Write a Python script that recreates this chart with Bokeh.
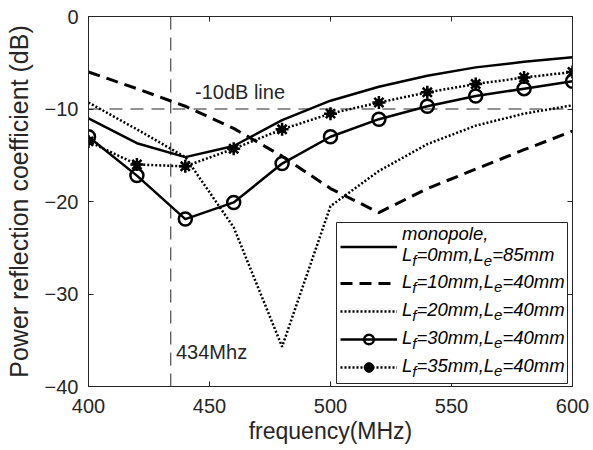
from bokeh.plotting import figure
from bokeh.models import (Range1d, Legend, LegendItem, BoxAnnotation, Label, Span,
                          LinearAxis, SingleIntervalTicker, CustomLabelingPolicy)
from bokeh.embed import file_html
from bokeh.resources import INLINE

# ---------------- data ----------------
freq = [400, 420, 440, 460, 480, 500, 520, 540, 560, 580, 600]
s_monopole = [-11.0, -13.7, -15.2, -14.0, -11.2, -9.1, -7.6, -6.4, -5.5, -4.9, -4.4]
s_lf10 = [-6.0, -7.8, -9.7, -12.1, -15.1, -18.6, -21.2, -18.6, -16.5, -14.4, -12.4]
s_lf20 = [-9.3, -12.2, -15.2, -22.8, -35.7, -20.5, -16.7, -13.8, -11.8, -10.5, -9.6]
s_lf30 = [-13.0, -17.2, -21.9, -20.1, -15.9, -13.0, -11.1, -9.7, -8.6, -7.8, -7.0]
s_lf35 = [-13.5, -16.0, -16.2, -14.3, -12.2, -10.5, -9.3, -8.2, -7.3, -6.6, -6.0]

lf_labels = ["0mm", "10mm", "20mm", "30mm", "35mm"]
le_labels = ["85mm", "40mm", "40mm", "40mm", "40mm"]

MARK_FREQ = 434
THRESH_DB = -10
x_label = "frequency(MHz)"
y_label = "Power reflection coefficient (dB)"

# ---------------- layout constants ----------------
FONT = "Liberation Sans"
INK = "#262626"
FRAME_W, FRAME_H = 484, 370
X_START, X_END = 400, 600
Y_START, Y_END = -40, 0
TEXT_LIFT = 6.5   # px, compensates label baseline placement


def fx(px):
    return X_START + px * (X_END - X_START) / FRAME_W


def fy(py):
    return Y_END - (py - TEXT_LIFT) * (Y_END - Y_START) / FRAME_H


def fy_box(py):
    return Y_END - py * (Y_END - Y_START) / FRAME_H


p = figure(frame_width=FRAME_W, frame_height=FRAME_H,
           x_range=Range1d(X_START, X_END), y_range=Range1d(Y_START, Y_END),
           output_backend="svg", toolbar_location=None,
           min_border_left=88, min_border_right=21, min_border_top=16, min_border_bottom=62,
           background_fill_color="white", border_fill_color="white")
p.grid.visible = False
p.outline_line_color = INK

p.xaxis.ticker = SingleIntervalTicker(interval=50, num_minor_ticks=0)
p.yaxis.ticker = SingleIntervalTicker(interval=10, num_minor_ticks=0)

for ax in (p.xaxis[0], p.yaxis[0]):
    ax.major_tick_in = 5
    ax.major_tick_out = 0
    ax.minor_tick_line_color = None
    ax.axis_line_color = INK
    ax.major_tick_line_color = INK
    ax.major_label_text_font = FONT
    ax.major_label_text_font_size = "20px"
    ax.major_label_text_color = INK
    ax.axis_label_text_font = FONT
    ax.axis_label_text_font_style = "normal"
    ax.axis_label_text_color = INK

p.xaxis.axis_label = x_label
p.xaxis.axis_label_text_font_size = "23px"
p.xaxis.major_label_standoff = 12
p.xaxis.axis_label_standoff = 2

p.yaxis.axis_label = y_label
p.yaxis.axis_label_text_font_size = "25px"
p.yaxis.major_label_standoff = 10
p.yaxis.axis_label_standoff = 9

hide_all = "for (const i of indices) { indices.unset(i) }\nreturn indices"
for loc, iv in (("above", 50), ("right", 10)):
    ax = LinearAxis(ticker=SingleIntervalTicker(interval=iv, num_minor_ticks=0),
                    major_tick_in=5, major_tick_out=0,
                    minor_tick_line_color=None, axis_line_color=INK,
                    major_tick_line_color=INK, major_label_text_font_size="2px",
                    major_label_standoff=0,
                    major_label_policy=CustomLabelingPolicy(code=hide_all))
    p.add_layout(ax, loc)

# reference lines
p.add_layout(Span(location=MARK_FREQ, dimension="height", line_color=INK,
                  line_width=1, line_dash="13 8", level="underlay"))
p.add_layout(Span(location=THRESH_DB, dimension="width", line_color=INK,
                  line_width=1, line_dash="13 8", level="underlay"))

# curves
r_mono = p.line(freq, s_monopole, line_color="black", line_width=2.5)
r_10 = p.line(freq, s_lf10, line_color="black", line_width=3, line_dash="12 7")
r_20 = p.line(freq, s_lf20, line_color="black", line_width=2.5, line_dash="2 2")
r_30 = p.line(freq, s_lf30, line_color="black", line_width=2.5)
r_30m = p.scatter(freq, s_lf30, marker="circle", size=13, fill_color=None,
                  line_color="black", line_width=2.5)
r_35 = p.line(freq, s_lf35, line_color="black", line_width=2.5, line_dash="2 2")
r_35a = p.scatter(freq, s_lf35, marker="asterisk", size=13, line_color="black", line_width=2.5)
r_35b = p.scatter(freq, s_lf35, marker="circle", size=7, fill_color="black", line_color="black")

# in-plot annotations (positions in frame pixels)
for txt, px, py in (("-10dB line", 106.5, 82.3), ("434Mhz", 87.5, 342.3)):
    p.add_layout(Label(x=fx(px), y=fy(py), text=txt, text_font=FONT, text_font_size="20px",
                       text_color=INK, text_baseline="alphabetic", text_align="left"))

# ---------------- legend ----------------
LEG_L, LEG_T, LEG_R, LEG_B = 248, 206, 479, 367   # frame pixel coords
p.add_layout(BoxAnnotation(left=fx(LEG_L), right=fx(LEG_R), top=fy_box(LEG_T),
                           bottom=fy_box(LEG_B), fill_color="white", fill_alpha=1.0,
                           line_color=INK, line_width=1, line_alpha=1.0))

common = dict(padding=4, glyph_width=57, label_standoff=4, label_width=162,
              spacing=4, border_line_alpha=0, background_fill_alpha=0, margin=0,
              label_text_font_size="10px")
legA = Legend(items=[LegendItem(label=" ", renderers=[r_mono])],
              location=(LEG_L, FRAME_H - (LEG_T + 49)), glyph_height=41, label_height=41, **common)
legB = Legend(items=[LegendItem(label=" ", renderers=[r_10]),
                     LegendItem(label=" ", renderers=[r_20]),
                     LegendItem(label=" ", renderers=[r_30, r_30m]),
                     LegendItem(label=" ", renderers=[r_35, r_35a, r_35b])],
              location=(LEG_L, FRAME_H - LEG_B), glyph_height=24, label_height=24, **common)
p.add_layout(legA, "center")
p.add_layout(legB, "center")

W = {'L': 0.556, '=': 0.584, 'm': 0.833, ',': 0.278, 'f': 0.278, 'e': 0.556,
     'o': 0.556, 'n': 0.556, 'p': 0.556, 'l': 0.222}
for d in "0123456789":
    W[d] = 0.556


def tw(s, size):
    return sum(W.get(c, 0.556) for c in s) * size


TX = 313.5


def add_text(x, base, t, size):
    p.add_layout(Label(x=fx(x), y=fy(base), text=t, text_font=FONT,
                       text_font_style="italic", text_font_size=f"{size}px",
                       text_color="black", text_baseline="alphabetic", text_align="left"))


def entry(base, lf, le):
    segs = [("L", False), ("f", True), (f"={lf},L", False), ("e", True), (f"={le}", False)]
    x = TX
    for t, sub in segs:
        size = 15 if sub else 18.5
        add_text(x, base + (6 if sub else 0), t, size)
        x += tw(t, size)


add_text(TX, 223, "monopole,", 18.5)
bases = [244.5, 271, 299, 327, 355]
for b, lf, le in zip(bases, lf_labels, le_labels):
    entry(b, lf, le)

open("out.html", "w").write(file_html(p, INLINE))
